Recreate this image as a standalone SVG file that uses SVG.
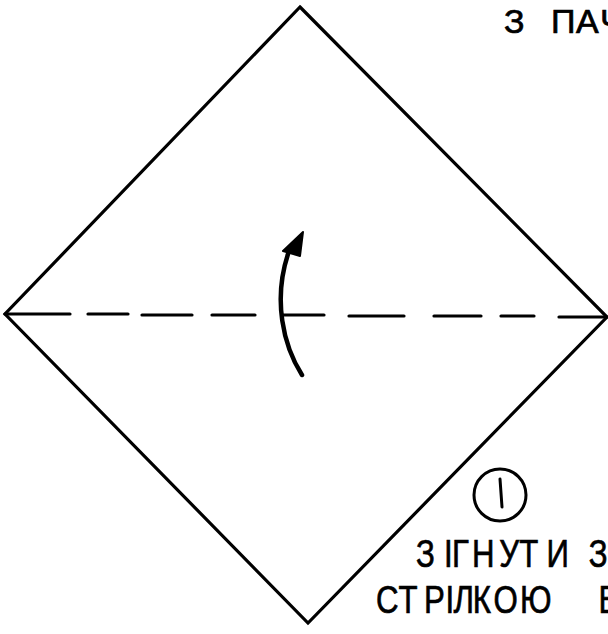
<svg xmlns="http://www.w3.org/2000/svg" width="608" height="634" viewBox="0 0 608 634">
<style>
.edge{fill:none;stroke:#000;stroke-width:3.2;stroke-linejoin:miter;stroke-linecap:round}
.fold{fill:none;stroke:#000;stroke-width:3.2;stroke-linecap:round}
.arrow{fill:none;stroke:#000;stroke-width:4.5;stroke-linecap:round}
.txt{font-family:"Liberation Sans","DejaVu Sans",sans-serif;fill:#000;stroke:#000;stroke-width:0.7}
</style>
<rect width="608" height="634" fill="#fff"/>
<g id="paper">
<polygon class="edge" points="300,7 607,317 308,623 5,314"/>
</g>
<g id="connectors">
<g id="fold-line">
<path class="fold" d="M5,314 L70,314 M88,314 L128,314 M142,315 L192,315 M212,315 L255,315 M282,315 L324,315 M349,316 L404,316 M434,316 L481,316 M501,316 L534,316 M559,317 L607,317"/>
</g>
<g id="fold-arrow">
<path class="arrow" d="M302,375 C283,345 273,300 288,254"/>
<polygon points="303,232 283,251 300,256" fill="#000" stroke="#000" stroke-width="2" stroke-linejoin="round"/>
</g>
</g>
<g id="step-number">
<circle cx="500" cy="495" r="26" fill="none" stroke="#000" stroke-width="3"/>
<path d="M500,479 L502,507" stroke="#000" stroke-width="3" stroke-linecap="round"/>
</g>
<g id="title">
<text class="txt" font-size="34" x="504 527 551 576 600" y="33">З ПАЧ</text>
</g>
<g id="caption">
<text class="txt" font-size="39" transform="scale(0.8,1)" x="520 555 565 590 624 649 683 719 736" y="567">ЗІГНУТИ З</text>
<text class="txt" font-size="39" transform="scale(0.8,1)" x="470 498 530 557 567 591 617 650 722 748" y="613">СТРІЛКОЮ В</text>
</g>
</svg>
